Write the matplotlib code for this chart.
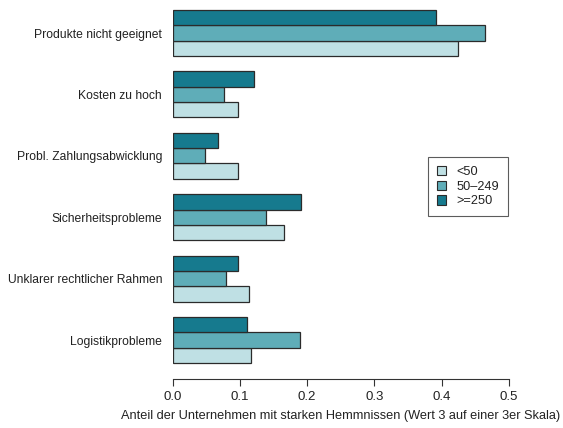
import numpy as np
import matplotlib.pyplot as plt
from matplotlib.patches import Patch

plt.rcParams['font.family'] = ['Liberation Sans', 'DejaVu Sans']

# categories from top to bottom
categories = ['Produkte nicht geeignet', 'Kosten zu hoch', 'Probl. Zahlungsabwicklung',
              'Sicherheitsprobleme', 'Unklarer rechtlicher Rahmen', 'Logistikprobleme']
series = ['<50', '50\u2013249', '>=250']
small = [0.424, 0.098, 0.098, 0.165, 0.114, 0.117]
medium = [0.465, 0.076, 0.049, 0.139, 0.080, 0.190]
large = [0.391, 0.121, 0.067, 0.191, 0.097, 0.111]

colors = ['#bfe0e4', '#5fadb8', '#167a8e']
edge = '#2b2b2b'
txt = '#222222'

fig = plt.figure(figsize=(5.63, 4.28), dpi=100)
ax = fig.add_axes([172.5 / 563, (428 - 379) / 428, 336.5 / 563, 379 / 428])

n = len(categories)
# R-style layout: bars of width 1, one unit gap before each group, bottom group first
base = np.array([1 + 4 * (n - 1 - i) for i in range(n)])
for k, vals in enumerate([small, medium, large]):
    ax.barh(base + k + 0.5, vals, height=1.0, color=colors[k],
            edgecolor=edge, linewidth=0.9)

ax.set_yticks(base + 1.5)
ax.set_yticklabels(categories, fontsize=8.75, color=txt)
ax.tick_params(axis='y', length=0, pad=7.5)

ax.set_xlim(0, 0.5)
ax.set_ylim(-0.04, 24.65)
ax.set_xticks([0, 0.1, 0.2, 0.3, 0.4, 0.5])
ax.set_xticklabels(['0.0', '0.1', '0.2', '0.3', '0.4', '0.5'], fontsize=9.5, color=txt)
ax.tick_params(axis='x', length=5, width=0.8, color='#333333', pad=4)
ax.set_xlabel('Anteil der Unternehmen mit starken Hemmnissen (Wert 3 auf einer 3er Skala)',
              fontsize=9.2, color=txt, labelpad=5)

for s in ['top', 'right', 'left']:
    ax.spines[s].set_visible(False)
ax.spines['bottom'].set_color('#333333')
ax.spines['bottom'].set_linewidth(0.8)

handles = [Patch(facecolor=c, edgecolor=edge, linewidth=0.8) for c in colors]
leg = ax.legend(handles, series, loc='upper left', bbox_to_anchor=(0.759, 0.586),
                borderaxespad=0, fontsize=9.2, frameon=True, fancybox=False,
                handlelength=0.75, handleheight=0.75, handletextpad=0.8,
                borderpad=0.7, labelspacing=0.2)
leg.get_frame().set_edgecolor('#333333')
leg.get_frame().set_linewidth(0.8)
for t in leg.get_texts():
    t.set_color(txt)

fig.savefig('out.png', dpi=100)
